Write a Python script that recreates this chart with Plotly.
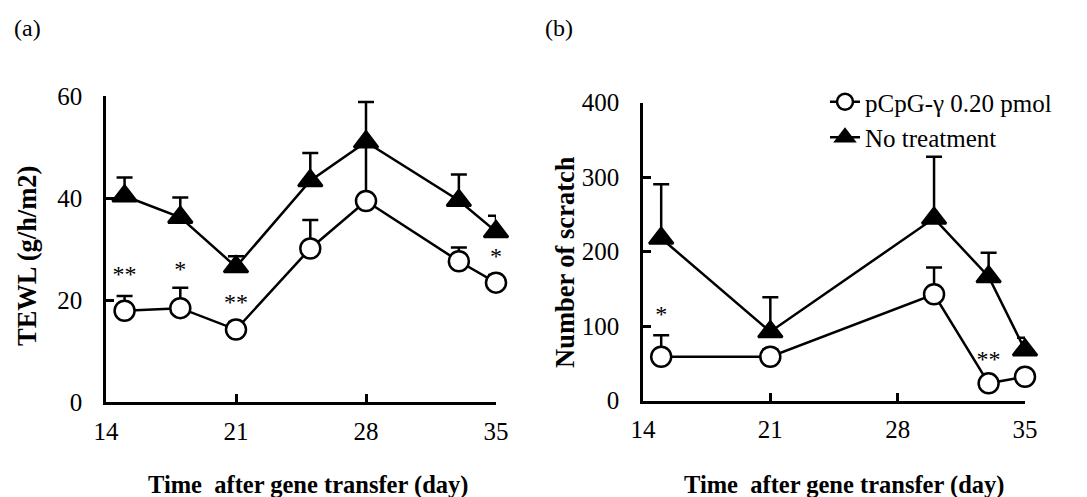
"""
TEWL and scratch counts after gene transfer, two panels
"""
import plotly.graph_objects as go

# (a) TEWL
days_a = [15, 18, 21, 25, 28, 33, 35]
pcpg_a = [17.9, 18.4, 14.2, 30.1, 39.4, 27.6, 23.4]
pcpg_a_err = [2.9, 4.0, 1.5, 5.6, 11.0, 2.7, 1.5]
notx_a = [40.4, 36.2, 26.5, 43.4, 51.0, 39.5, 33.4]
notx_a_err = [3.6, 3.9, 2.1, 5.4, 7.8, 5.1, 3.1]
sig_a_x = [15, 18, 21, 35]
sig_a_y = [24.7, 25.6, 19.2, 28.3]
sig_a_text = ['**', '*', '**', '*']

# (b) scratch
days_b = [15, 21, 30, 33, 35]
pcpg_b = [59, 59, 142.8, 23.3, 32.2]
pcpg_b_err = [29, 10, 36, 8, 8]
notx_b = [218, 92.6, 244.8, 166.4, 68]
notx_b_err = [72.5, 46.2, 82.7, 32.3, 16.6]
sig_b_x = [15, 33]
sig_b_y = [113, 53.6]
sig_b_text = ['*', '**']

x_ticks = [14, 21, 28, 35]
ticks_a = [0, 20, 40, 60]
ticks_b = [0, 100, 200, 300, 400]

name_pcpg = 'pCpG-γ 0.20 pmol'
name_notx = 'No treatment'

FONT = 'Liberation Serif, Times New Roman, serif'
W, H = 1087, 497


def px_x(x):
    return x / W


def px_y(y):
    return 1 - y / H


def series(x, y, err, name, symbol, size, xa, ya, show):
    return go.Scatter(
        x=x, y=y, name=name, mode='lines+markers',
        xaxis=xa, yaxis=ya, showlegend=show, cliponaxis=False,
        line=dict(color='black', width=2.5),
        marker=dict(symbol=symbol, size=size,
                    color='white' if symbol == 'circle' else 'black',
                    line=dict(color='black', width=2.5)),
        error_y=dict(type='data', symmetric=False, array=err,
                     arrayminus=[0] * len(err), color='black',
                     thickness=2.5, width=8),
    )


fig = go.Figure()

fig.add_trace(series(days_a, pcpg_a, pcpg_a_err, name_pcpg, 'circle', 20, 'x', 'y', False))
fig.add_trace(series(days_a, notx_a, notx_a_err, name_notx, 'triangle-up', 21, 'x', 'y', False))
fig.add_trace(series(days_b, pcpg_b, pcpg_b_err, name_pcpg, 'circle', 20, 'x2', 'y2', True))
fig.add_trace(series(days_b, notx_b, notx_b_err, name_notx, 'triangle-up', 21, 'x2', 'y2', True))

# significance marks
for sx, sy, st, xa, ya in [(sig_a_x, sig_a_y, sig_a_text, 'x', 'y'),
                           (sig_b_x, sig_b_y, sig_b_text, 'x2', 'y2')]:
    fig.add_trace(go.Scatter(
        x=sx, y=sy, text=st, mode='text', xaxis=xa, yaxis=ya,
        showlegend=False, cliponaxis=False,
        textfont=dict(family=FONT, size=24, color='black'),
        hoverinfo='skip'
    ))

axis_common = dict(
    showline=True, linecolor='black', linewidth=2.5,
    ticks='inside', ticklen=8, tickwidth=2.5, tickcolor='black',
    showgrid=False, zeroline=False, automargin=False,
    tickfont=dict(family=FONT, size=25, color='black'),
)

fig.update_layout(
    width=W, height=H,
    margin=dict(l=0, r=0, t=0, b=0, autoexpand=False),
    paper_bgcolor='white', plot_bgcolor='white',
    font=dict(family=FONT, color='black'),
    xaxis=dict(domain=[px_x(106), px_x(496)], range=[14, 35], tickvals=x_ticks,
               anchor='y', ticklabelstandoff=5, **axis_common),
    yaxis=dict(domain=[px_y(402), px_y(96)], range=[0, 60], tickvals=ticks_a,
               anchor='x', ticklabelstandoff=16, **axis_common),
    xaxis2=dict(domain=[px_x(643), px_x(1025)], range=[14, 35], tickvals=x_ticks,
                anchor='y2', ticklabelstandoff=5, **axis_common),
    yaxis2=dict(domain=[px_y(400.7), px_y(102.7)], range=[0, 400], tickvals=ticks_b,
                anchor='x2', ticklabelstandoff=16, **axis_common),
    legend=dict(x=px_x(825), y=px_y(79), xanchor='left', yanchor='top',
                font=dict(family=FONT, size=25, color='black'),
                bgcolor='rgba(0,0,0,0)', tracegroupgap=0),
)

# panel letters and axis titles
labels = [
    ('(a)', 27, 28, 0, 24),
    ('(b)', 559, 28, 0, 24),
    ('<b>Time  after gene transfer (day)</b>', 308, 485, 0, 24.5),
    ('<b>Time  after gene transfer (day)</b>', 844, 485, 0, 24.5),
    ('<b>TEWL (g/h/m2)</b>', 27, 256, -90, 26.5),
    ('<b>Number of scratch</b>', 565, 262, -90, 26.5),
]
for text, x, y, ang, size in labels:
    fig.add_annotation(
        text=text, x=px_x(x), y=px_y(y), xref='paper', yref='paper',
        showarrow=False, textangle=ang, xanchor='center', yanchor='middle',
        font=dict(family=FONT, size=size, color='black'),
    )

# page body has a default 8px margin; drop it so the figure sits at 0,0
fig.write_html("out.html", config={'displayModeBar': False},
               post_script="document.body.style.margin='0px';")
